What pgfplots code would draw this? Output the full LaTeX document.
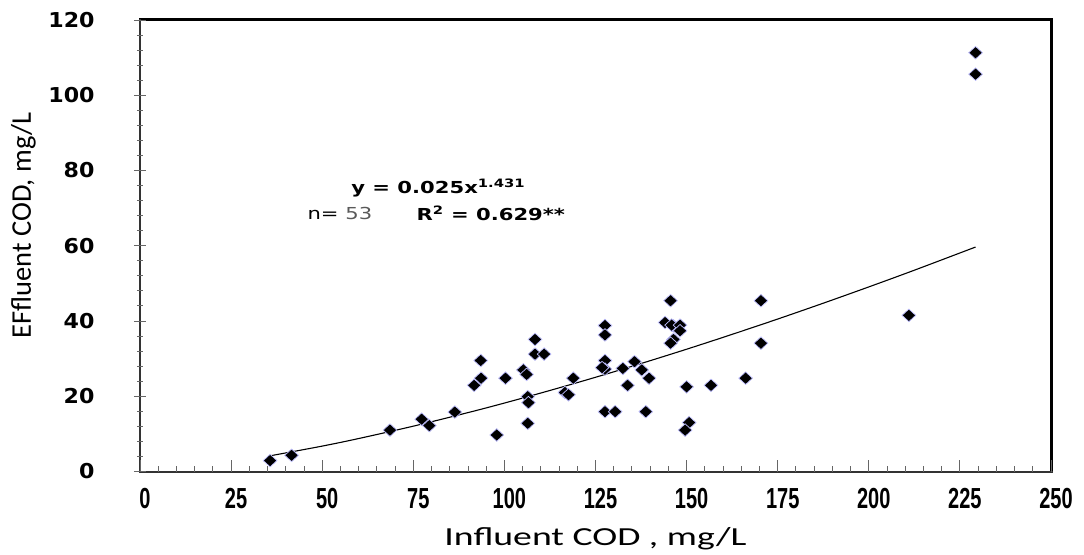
\documentclass[border=0pt]{standalone}
\usepackage{fontspec}
\setmainfont{Liberation Sans}
\newfontfamily\dejavu{DejaVu Sans}
\newfontfamily\carlito{Carlito}
\usepackage{pgfplots}
\pgfplotsset{compat=1.18}
\pgfplotstableread{
x y
35.7 2.9
41.6 4.3
68.6 11.0
77.3 13.9
79.4 12.2
86.4 15.8
91.7 22.9
93.5 29.5
93.6 24.8
97.9 9.7
100.3 24.8
105.2 27.0
106.1 25.8
106.4 19.9
106.6 18.3
106.4 12.8
108.4 35.1
108.4 31.2
110.9 31.2
116.6 21.0
117.6 20.4
118.9 24.8
127.6 38.8
127.6 36.3
127.6 29.5
127.6 27.2
126.8 27.6
127.6 15.9
130.4 15.9
132.5 27.4
133.8 22.9
135.7 29.2
137.7 27.0
139.7 24.8
138.8 15.9
145.6 45.4
144.1 39.6
146.4 38.7
145.9 38.9
148.2 38.9
148.2 37.4
146.4 35.1
145.6 34.1
150.0 22.5
150.7 13.0
149.6 11.0
156.7 22.9
166.2 24.8
170.4 45.4
170.4 34.1
211.0 41.5
229.3 111.3
229.3 105.6
}\datatable
\pgfplotstableread{
x y
35.7 4.17
50 6.75
60 8.76
75 12.05
90 15.65
100 18.19
112.5 21.54
125 25.04
137.5 28.70
150 32.50
162.5 36.45
175 40.52
187.5 44.73
200 49.06
212.5 53.50
229.3 59.66
}\trendtable
\begin{document}
\begin{tikzpicture}
\useasboundingbox (-140bp,-83.5bp) rectangle (944bp,471.5bp);
\fill[black] (909.5bp,-1bp) rectangle (912.5bp,452.5bp);
\fill[black] (-1bp,450bp) rectangle (912.5bp,453bp);
\fill[black!80] (-1bp,-1bp) rectangle (1.2bp,452.5bp);
\fill[black!80] (-1bp,-1.2bp) rectangle (912.5bp,1bp);
\begin{axis}[
  at={(0,0)}, anchor=south west,
  scale only axis, width=911bp, height=451.5bp,
  xmin=0, xmax=250, ymin=0, ymax=120,
  axis line style={draw=none},
  xtick={0,25,...,250}, ytick={0,20,...,120},
  minor x tick num=4, minor y tick num=4,
  tick pos=left,
  xtick align=inside, ytick align=center,
  major tick length=12bp, minor tick length=6bp,
  tick style={line width=0.9bp, black!60},
  /pgf/number format/assume math mode=true,
  xticklabel style={font=\bfseries\fontsize{20bp}{22bp}\selectfont, yscale=1.45, yshift=-8bp, xshift=5bp},
  yticklabel style={font=\dejavu\bfseries\fontsize{20.5bp}{21bp}\selectfont, xscale=1.08, xshift=-33bp},
  xlabel={Influent COD , mg/L},
  ylabel={EFfluent COD, mg/L},
  xlabel style={font=\carlito\fontsize{26bp}{28bp}\selectfont, xscale=1.45, at={(axis description cs:0.5,-0.148)}, anchor=center},
  ylabel style={font=\carlito\fontsize{28.5bp}{30bp}\selectfont, at={(axis description cs:-0.128,0.545)}, anchor=center},
]
\addplot[black, line width=1.1bp, smooth] table[x=x, y=y] {\trendtable};
\addplot[only marks, mark=diamond*, mark size=6.3bp,
  mark options={xscale=1.45, fill=black, draw=blue!25, line width=0.7bp}]
  table[x=x, y=y] {\datatable};
\node[anchor=west, xscale=1.28, font=\dejavu\bfseries\fontsize{16.5bp}{18bp}\selectfont]
  at (axis description cs:0.227,0.628) {y = 0.025x\textsuperscript{1.431}};
\node[anchor=west, xscale=1.28, font=\dejavu\fontsize{16.5bp}{18bp}\selectfont]
  at (axis description cs:0.179,0.5725) {n= \textcolor{black!65}{53}};
\node[anchor=west, xscale=1.28, font=\dejavu\bfseries\fontsize{16.5bp}{18bp}\selectfont]
  at (axis description cs:0.2986,0.5725) {R\textsuperscript{2} = 0.629**};
\end{axis}
\end{tikzpicture}
\end{document}
